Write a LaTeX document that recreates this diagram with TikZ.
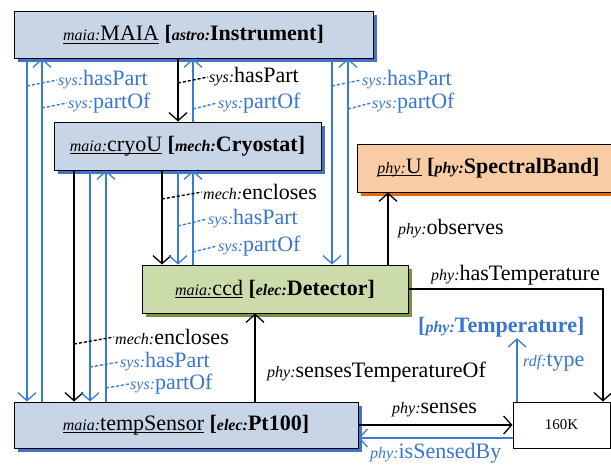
\documentclass[tikz,border=0pt]{standalone}
\usepackage{fontspec}
\setmainfont{Liberation Serif}
\usetikzlibrary{arrows.meta,shadows}
\definecolor{bfill}{RGB}{200,213,230}
\definecolor{bshad}{RGB}{68,114,196}
\definecolor{gfill}{RGB}{204,219,170}
\definecolor{gshad}{RGB}{118,146,60}
\definecolor{ofill}{RGB}{250,204,166}
\definecolor{oshad}{RGB}{228,108,10}
\definecolor{lblue}{RGB}{55,125,215}
\definecolor{tblue}{RGB}{58,118,206}
\newcommand{\pfx}[1]{{\fontsize{16}{18}\selectfont\itshape #1:}}
\newcommand{\ulx}[1]{\setbox0\hbox{#1}\rlap{\rule[-3pt]{\wd0}{0.8pt}}\box0\relax}
\begin{document}
\begin{tikzpicture}[x=1pt,y=-1pt,
  every node/.style={font=\fontsize{22}{24}\selectfont},
  box/.style={draw=black, line width=1pt, inner sep=0pt},
  bluebox/.style={box, fill=bfill, general shadow={fill=bshad, shadow xshift=4pt, shadow yshift=-4pt}},
  greenbox/.style={box, fill=gfill, general shadow={fill=gshad, shadow xshift=4pt, shadow yshift=-4pt}},
  orangebox/.style={box, fill=ofill, general shadow={fill=oshad, shadow xshift=4pt, shadow yshift=-4pt}},
  lbl/.style={anchor=west, inner sep=1pt},
  blbl/.style={lbl, text=tblue},
  bl/.style={draw=lblue, line width=1.3pt},
  bk/.style={draw=black, line width=1.3pt},
  leader/.style={dash pattern=on 3pt off 2pt, line width=1.4pt},
  >={Straight Barb[length=8pt,width=18pt]}
]
\useasboundingbox (0,0) rectangle (611,464);
\fill[white] (0,0) rectangle (611,464);

% boxes
\node[bluebox, minimum width=359pt, minimum height=47pt] (maia) at (193.5,34.5)
  {\ulx{\pfx{maia}MAIA} \textbf{[\pfx{astro}Instrument]}};
\node[bluebox, minimum width=267pt, minimum height=48pt] (cryo) at (187.5,146)
  {\ulx{\pfx{maia}cryoU} \textbf{[\pfx{mech}Cryostat]}};
\node[orangebox, minimum width=263pt, minimum height=48pt] (U) at (488.5,168)
  {\ulx{\pfx{phy}U} \textbf{[\pfx{phy}SpectralBand]}\hspace{10pt}};
\node[greenbox, minimum width=266pt, minimum height=48pt] (ccd) at (275,289)
  {\ulx{\pfx{maia}ccd} \textbf{[\pfx{elec}Detector]}};
\node[bluebox, minimum width=344pt, minimum height=46pt] (temp) at (186,425)
  {\ulx{\pfx{maia}tempSensor} \textbf{[\pfx{elec}Pt100]}};
\node[box, fill=white, minimum width=97pt, minimum height=46pt, font=\fontsize{15}{17}\selectfont] (k160) at (561.5,425) {160K};

% columns
\coordinate (c27) at (27,0);
\coordinate (c42) at (42,0);
\coordinate (c74) at (74,0);
\coordinate (c90) at (90,0);
\coordinate (c106) at (106,0);
\coordinate (c162) at (162,0);
\coordinate (c178) at (178,0);
\coordinate (c193) at (193,0);
\coordinate (c255) at (255,0);
\coordinate (c332) at (332,0);
\coordinate (c348) at (348,0);
\coordinate (c388) at (388,0);
\coordinate (c517) at (517,0);
\coordinate (c603) at (603,0);
\coordinate (ys) at (0,438);

% connectors
\draw[bl,->] (maia.south -| c27) -- (temp.north -| c27);
\draw[bl,->] (temp.north -| c42) -- (maia.south -| c42);
\draw[bk,->] (cryo.south -| c74) -- (temp.north -| c74);
\draw[bl,->] (cryo.south -| c90) -- (temp.north -| c90);
\draw[bl,->] (temp.north -| c106) -- (cryo.south -| c106);
\draw[bk,->] (maia.south -| c178) -- (cryo.north -| c178);
\draw[bl,->] (cryo.north -| c193) -- (maia.south -| c193);
\draw[bk,->] (cryo.south -| c162) -- (ccd.north -| c162);
\draw[bl,->] (cryo.south -| c178) -- (ccd.north -| c178);
\draw[bl,->] (ccd.north -| c193) -- (cryo.south -| c193);
\draw[bl,->] (maia.south -| c332) -- (ccd.north -| c332);
\draw[bl,->] (ccd.north -| c348) -- (maia.south -| c348);
\draw[bk,->] (temp.north -| c255) -- (ccd.south -| c255);
\draw[bk,->] (ccd.north -| c388) -- (U.south -| c388);
\draw[bk,->] (ccd.east) -| (k160.north -| c603);
\draw[bk,->] (temp.east) -- (k160.west);
\draw[bl,->] (k160.west |- ys) -- (temp.east |- ys);

% labels with leaders
\node[blbl] (t1) at (57,80) {\pfx{sys}hasPart};
\node[blbl] (t2) at (67,103) {\pfx{sys}partOf};
\node[lbl]  (t3) at (208,77) {\pfx{sys}hasPart};
\node[blbl] (t4) at (217,103) {\pfx{sys}partOf};
\node[blbl] (t5) at (361,80) {\pfx{sys}hasPart};
\node[blbl] (t6) at (371,103) {\pfx{sys}partOf};
\node[lbl]  (m1) at (202,192) {\pfx{mech}encloses};
\node[blbl] (m2) at (207,219) {\pfx{sys}hasPart};
\node[blbl] (m3) at (217,246) {\pfx{sys}partOf};
\node[lbl]  (b1) at (114,337) {\pfx{mech}encloses};
\node[blbl] (b2) at (119,362) {\pfx{sys}hasPart};
\node[blbl] (b3) at (129,384) {\pfx{sys}partOf};

\coordinate (p1) at (27,86);
\coordinate (p2) at (42,108);
\coordinate (p3) at (178,83);
\coordinate (p4) at (193,109);
\coordinate (p5) at (332,86);
\coordinate (p6) at (348,109);
\coordinate (q1) at (162,199);
\coordinate (q2) at (178,226);
\coordinate (q3) at (193,252);
\coordinate (r1) at (74,344);
\coordinate (r2) at (90,367);
\coordinate (r3) at (106,388);

\draw[leader, draw=lblue] (p1) -- (t1.west);
\draw[leader, draw=lblue] (p2) -- (t2.west);
\draw[leader, draw=black] (p3) -- (t3.west);
\draw[leader, draw=lblue] (p4) -- (t4.west);
\draw[leader, draw=lblue] (p5) -- (t5.west);
\draw[leader, draw=lblue] (p6) -- (t6.west);
\draw[leader, draw=black] (q1) -- (m1.west);
\draw[leader, draw=lblue] (q2) -- (m2.west);
\draw[leader, draw=lblue] (q3) -- (m3.west);
\draw[leader, draw=black] (r1) -- (b1.west);
\draw[leader, draw=lblue] (r2) -- (b2.west);
\draw[leader, draw=lblue] (r3) -- (b3.west);

% other labels
\node[lbl] (obs) at (397,229) {\pfx{phy}observes};
\node[lbl] (hasT) at (430,275) {\pfx{phy}hasTemperature};
\node[lbl] (sto) at (266,372) {\pfx{phy}sensesTemperatureOf};
\node[lbl] (sen) at (391,410) {\pfx{phy}senses};
\node[blbl] (isb) at (369,453) {\pfx{phy}isSensedBy};
\node[blbl, font=\fontsize{22}{24}\selectfont\bfseries] (tempT) at (417,327) {[\pfx{phy}Temperature]};
\node[blbl] (rdf) at (522,363) {\pfx{rdf}type};
\draw[bl,->] (k160.north -| c517) -- (tempT.south -| c517);
\end{tikzpicture}
\end{document}
